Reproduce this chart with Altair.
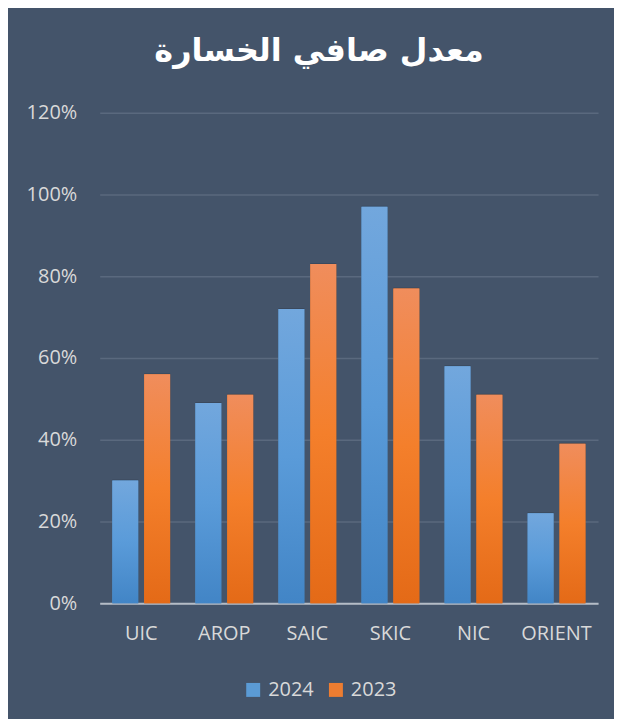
import altair as alt
import pandas as pd

categories = ["UIC", "AROP", "SAIC", "SKIC", "NIC", "ORIENT"]
series = ["2024", "2023"]
values_2024 = [0.30, 0.49, 0.72, 0.97, 0.58, 0.22]
values_2023 = [0.56, 0.51, 0.83, 0.77, 0.51, 0.39]
y_ticks = [0, 0.2, 0.4, 0.6, 0.8, 1.0, 1.2]
title_text = "معدل صافي الخسارة"
legend_colors = ["#5b9bd5", "#ed7d31"]

rows = []
for c, a, b in zip(categories, values_2024, values_2023):
    rows.append({"company": c, "year": series[0], "value": a})
    rows.append({"company": c, "year": series[1], "value": b})
df = pd.DataFrame(rows)

blue_grad = alt.Gradient(
    gradient="linear",
    stops=[alt.GradientStop(color="#72a7dd", offset=0),
           alt.GradientStop(color="#5a9bd9", offset=0.5),
           alt.GradientStop(color="#4285c6", offset=1)],
    x1=0, x2=0, y1=0, y2=1)
orange_grad = alt.Gradient(
    gradient="linear",
    stops=[alt.GradientStop(color="#f08d5c", offset=0),
           alt.GradientStop(color="#f47f2b", offset=0.5),
           alt.GradientStop(color="#e46a17", offset=1)],
    x1=0, x2=0, y1=0, y2=1)

label_font = "Open Sans"
label_color = "#d9d9d9"

x_enc = alt.X("company:N", sort=categories,
              scale=alt.Scale(paddingInner=0.304, paddingOuter=0.152),
              axis=alt.Axis(title=None, labelAngle=0, ticks=False,
                            domainColor="#b4bcc6", domainWidth=2,
                            labelColor=label_color, labelFontSize=20,
                            labelFont=label_font, labelPadding=20))
xo_enc = alt.XOffset("year:N", sort=series,
                     scale=alt.Scale(paddingInner=0.1875, paddingOuter=0))
y_enc = alt.Y("value:Q", scale=alt.Scale(domain=[0, 1.2], nice=False),
              axis=alt.Axis(title=None, values=y_ticks, format=".0%",
                            domain=False, ticks=False, gridColor="#5a697e",
                            gridWidth=1.5, labelColor=label_color,
                            labelFontSize=20, labelFont=label_font,
                            labelPadding=23))

shadow1 = alt.Chart(df).mark_bar(xOffset=5, yOffset=-1, color="#1c2633",
                                 opacity=0.22).encode(
    x=x_enc, xOffset=xo_enc, y=y_enc)
shadow2 = alt.Chart(df).mark_bar(xOffset=2.5, color="#1c2633",
                                 opacity=0.4).encode(
    x=x_enc, xOffset=xo_enc, y=y_enc)

base = alt.Chart(df).mark_bar().encode(
    x=x_enc, xOffset=xo_enc, y=y_enc,
    color=alt.Color("year:N", sort=series,
                    scale=alt.Scale(domain=series, range=legend_colors),
                    legend=alt.Legend(title=None, orient="none",
                                      legendX=144, legendY=569,
                                      direction="horizontal",
                                      symbolType="square", symbolSize=196,
                                      symbolStrokeWidth=0, symbolOpacity=1,
                                      labelFontSize=20, labelColor=label_color,
                                      labelFont=label_font, labelOffset=5,
                                      columnPadding=12, padding=0)))

grad = alt.Chart(df).mark_bar().encode(
    x=x_enc, xOffset=xo_enc, y=y_enc,
    fill=alt.condition(f"datum.year == '{series[0]}'",
                       alt.value(blue_grad), alt.value(orange_grad)))

chart = alt.layer(shadow1, shadow2, base, grad).properties(
    width=500, height=492,
    autosize=alt.AutoSizeParams(type="none"),
    padding={"left": 92, "top": 104, "right": 16, "bottom": 115},
    background="#44546a",
    title=alt.TitleParams(text=title_text, font="DejaVu Sans", fontSize=32,
                          fontWeight="bold", color="white", anchor="middle",
                          offset=35, dx=-30),
).configure_view(strokeWidth=0)

chart.save("out.html", embed_options={"renderer": "svg", "actions": False})
